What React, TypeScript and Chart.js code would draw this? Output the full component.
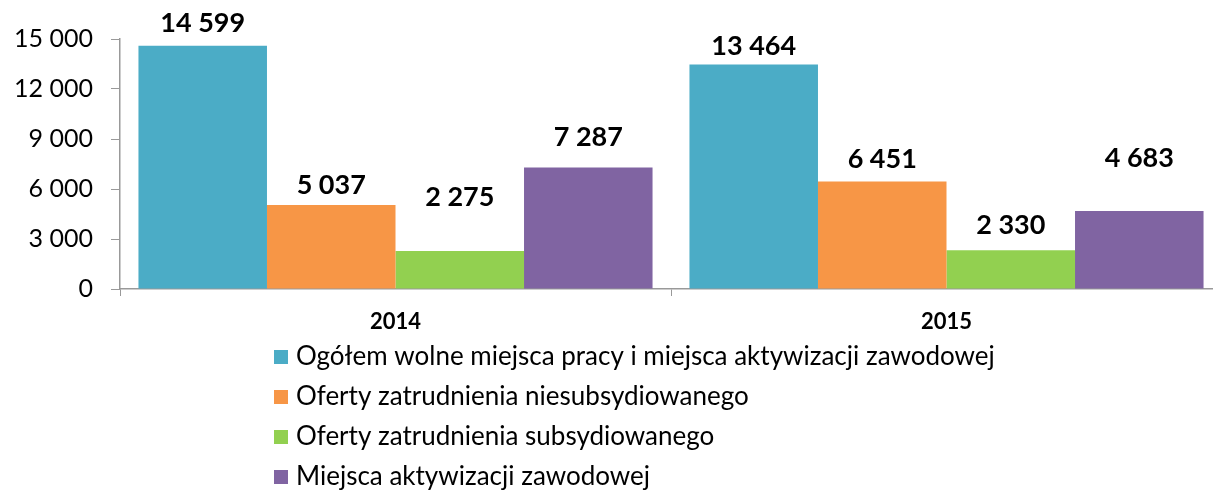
import React, { useEffect, useRef } from "react";
import { Chart, registerables } from "chart.js";

Chart.register(...registerables);

const categories = ["2014", "2015"];
const seriesNames = [
  "Ogółem wolne miejsca pracy i miejsca aktywizacji zawodowej",
  "Oferty zatrudnienia niesubsydiowanego",
  "Oferty zatrudnienia subsydiowanego",
  "Miejsca aktywizacji zawodowej",
];
const totalVacancies = [14599, 13464];
const unsubsidized = [5037, 6451];
const subsidized = [2275, 2330];
const activation = [7287, 4683];
const yTicks = [0, 3000, 6000, 9000, 12000, 15000];
const colors = ["#4BACC6", "#F79646", "#92D050", "#8064A2"];

const FONT = "Lato, 'Open Sans', sans-serif";

const fmt = (v: number) => {
  const s = String(Math.round(v));
  return s.replace(/\B(?=(\d{3})+(?!\d))/g, " ");
};

// extra lift (px) of each value label above its bar: [dataset][category]
const labelLift = [
  [22, 18],
  [20, 22],
  [54, 25],
  [30, 53],
];

const labelPlugin = {
  id: "valueLabels",
  afterDatasetsDraw(chart: any) {
    const ctx = chart.ctx;
    ctx.save();
    ctx.font = `bold 27px ${FONT}`;
    ctx.fillStyle = "#000";
    ctx.textAlign = "center";
    ctx.textBaseline = "middle";
    chart.data.datasets.forEach((ds: any, di: number) => {
      const meta = chart.getDatasetMeta(di);
      meta.data.forEach((bar: any, i: number) => {
        ctx.fillText(fmt(ds.data[i]), bar.x, bar.y - labelLift[di][i]);
      });
    });
    ctx.restore();
  },
};

const legendPlugin = {
  id: "vertLegend",
  afterDraw(chart: any) {
    const ctx = chart.ctx;
    ctx.save();
    ctx.font = `26px ${FONT}`;
    ctx.textBaseline = "middle";
    ctx.textAlign = "left";
    const x0 = 274;
    const ys = [357, 397, 437, 477];
    chart.data.datasets.forEach((ds: any, i: number) => {
      ctx.fillStyle = ds.backgroundColor;
      ctx.fillRect(x0, ys[i] - 7, 14, 14);
      ctx.fillStyle = "#000";
      ctx.fillText(ds.label, x0 + 22, ys[i]);
    });
    ctx.restore();
  },
};

export default function App() {
  const ref = useRef<HTMLCanvasElement>(null);
  useEffect(() => {
    document.body.style.margin = "0";
    const data = [totalVacancies, unsubsidized, subsidized, activation];
    const chart = new Chart(ref.current!, {
      type: "bar",
      data: {
        labels: categories,
        datasets: seriesNames.map((name, i) => ({
          label: name,
          data: data[i],
          backgroundColor: colors[i],
          borderWidth: 0,
          categoryPercentage: 0.933,
          barPercentage: 1,
        })),
      },
      options: {
        animation: false,
        responsive: false,
        maintainAspectRatio: false,
        layout: { padding: { top: 39, right: 0, bottom: 156, left: 0 } },
        plugins: {
          legend: { display: false },
          tooltip: { enabled: false },
        },
        scales: {
          x: {
            offset: true,
            grid: {
              offset: true,
              drawOnChartArea: false,
              color: "#999",
              tickLength: 7,
              lineWidth: 1,
            },
            border: { color: "#999", width: 1.5 },
            ticks: {
              color: "#000",
              font: { family: FONT, size: 22, weight: "bold" },
              padding: 13,
            },
            afterFit: (s: any) => {
              s.height = 45;
            },
          },
          y: {
            min: 0,
            max: 15000,
            afterBuildTicks: (s: any) => {
              s.ticks = yTicks.map((v) => ({ value: v }));
            },
            grid: {
              drawOnChartArea: false,
              color: "#999",
              tickLength: 9,
            },
            border: { color: "#999", width: 1.5 },
            ticks: {
              color: "#000",
              font: { family: FONT, size: 25 },
              padding: 18,
              callback: (v: any) => fmt(Number(v)),
            },
            afterFit: (s: any) => {
              s.width = 120;
            },
          },
        },
      },
      plugins: [labelPlugin, legendPlugin],
    });
    return () => chart.destroy();
  }, []);
  return (
    <div style={{ width: 1213, height: 490, overflow: "hidden" }}>
      <canvas ref={ref} width={1222} height={490} style={{ display: "block" }} />
    </div>
  );
}
